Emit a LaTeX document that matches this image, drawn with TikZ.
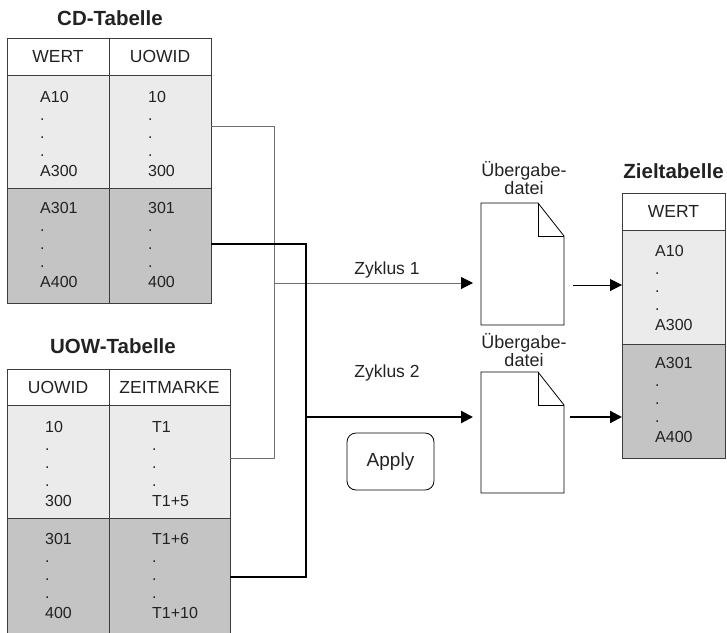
\documentclass[tikz,border=0pt]{standalone}
\usepackage{fontspec}
\setmainfont{Liberation Sans}
\usetikzlibrary{arrows.meta}

\definecolor{lightrow}{HTML}{EBEBEB}
\definecolor{darkrow}{HTML}{C4C4C4}
\definecolor{rulegray}{HTML}{3C3C3C}
\definecolor{wiregray}{HTML}{707070}
\definecolor{inkgray}{HTML}{222222}

% a column of values: first entry, three dots, last entry
\newcommand\valcol[5]{%
  \node[val] (#1a) at (#2,#3)    {#4};
  \node[val] (#1b) at (#2,#3+18) {.};
  \node[val] (#1c) at (#2,#3+36) {.};
  \node[val] (#1d) at (#2,#3+54) {.};
  \node[val] (#1e) at (#2,#3+74) {#5};
}

\tikzset{
  cell/.style={draw=rulegray, line width=0.9pt, inner sep=0pt, outer sep=0pt},
  headcell/.style={cell, fill=white, text=inkgray, font=\fontsize{17.5}{20}\selectfont},
  lightcell/.style={cell, fill=lightrow},
  darkcell/.style={cell, fill=darkrow},
  val/.style={anchor=base west, inner sep=0pt, text=inkgray, font=\fontsize{16}{18}\selectfont},
  tabtitle/.style={anchor=base, inner sep=0pt, text=inkgray, font=\bfseries\fontsize{20.5}{23}\selectfont},
  plainlabel/.style={anchor=base, inner sep=0pt, text=inkgray, font=\fontsize{17.5}{20}\selectfont},
  doclabel/.style={anchor=base, inner sep=0pt, text=inkgray, font=\fontsize{18}{20}\selectfont},
  docbox/.style={inner sep=0pt, outer sep=0pt, minimum width=83, minimum height=122},
  docline/.style={draw=black, line width=0.8pt, fill=white, line join=miter},
  thinwire/.style={draw=wiregray, line width=1pt},
  thickwire/.style={draw=black, line width=2.3pt},
  tip/.style={-{Triangle[length=12,width=12,color=black]}},
}

\begin{document}
\begin{tikzpicture}[x=1pt, y=-1pt]
\useasboundingbox (0,0) rectangle (727,632);

% ---------- CD-Tabelle ----------
\node[tabtitle] (cdtitle) at (110,25) {CD-Tabelle};
\node[headcell, minimum width=102, minimum height=37] (cdWh) at (58,56.5) {WERT};
\node[headcell, minimum width=102, minimum height=37] (cdUh) at (160,56.5) {UOWID};
\node[lightcell, minimum width=102, minimum height=113] (cdW1) at (58,131.5) {};
\node[lightcell, minimum width=102, minimum height=113] (cdU1) at (160,131.5) {};
\node[darkcell, minimum width=102, minimum height=115] (cdW2) at (58,245.5) {};
\node[darkcell, minimum width=102, minimum height=115] (cdU2) at (160,245.5) {};
\valcol{cdwa}{40}{102}{A10}{A300}
\valcol{cdua}{148}{102}{10}{300}
\valcol{cdwb}{40}{213}{A301}{A400}
\valcol{cdub}{148}{213}{301}{400}

% ---------- UOW-Tabelle ----------
\node[tabtitle] (uowtitle) at (113,353) {UOW-Tabelle};
\node[headcell, minimum width=102, minimum height=36] (uoIh) at (58,387) {UOWID};
\node[headcell, minimum width=121, minimum height=36] (uoZh) at (169.5,387) {ZEITMARKE};
\node[lightcell, minimum width=102, minimum height=113] (uoI1) at (58,461.5) {};
\node[lightcell, minimum width=121, minimum height=113] (uoZ1) at (169.5,461.5) {};
\node[darkcell, minimum width=102, minimum height=118] (uoI2) at (58,577) {};
\node[darkcell, minimum width=121, minimum height=118] (uoZ2) at (169.5,577) {};
\valcol{uoia}{45}{432}{10}{300}
\valcol{uoza}{152}{432}{T1}{T1+5}
\valcol{uoib}{45}{544}{301}{400}
\valcol{uozb}{152}{544}{T1+6}{T1+10}

% ---------- Zieltabelle ----------
\node[tabtitle] (zieltitle) at (673.5,178) {Zieltabelle};
\node[headcell, minimum width=103, minimum height=37] (zh) at (673.5,211.5) {WERT};
\node[lightcell, minimum width=103, minimum height=114] (z1) at (673.5,287) {};
\node[darkcell, minimum width=103, minimum height=114] (z2) at (673.5,401) {};
\valcol{zla}{655}{256}{A10}{A300}
\valcol{zlb}{655}{368}{A301}{A400}

% ---------- Uebergabedateien ----------
\node[docbox] (doc1) at (522.5,264) {};
\node[docbox, minimum height=121] (doc2) at (522.5,432.5) {};
\foreach \d in {doc1,doc2}{
  \draw[docline] (\d.north west) -- ([xshift=-26pt]\d.north east)
    -- ([yshift=-33pt]\d.north east) -- (\d.south east) -- (\d.south west) -- cycle;
  \draw[docline, fill=none] ([xshift=-26pt]\d.north east) |- ([yshift=-33pt]\d.north east);
}
\node[doclabel] (lab1a) at (524,176) {Übergabe-};
\node[doclabel] (lab1b) at (524,194) {datei};
\node[doclabel] (lab2a) at (524,348) {Übergabe-};
\node[doclabel] (lab2b) at (524,366.5) {datei};

% ---------- Apply ----------
\node[draw=black, line width=0.8pt, rounded corners=9pt, minimum width=87, minimum height=57,
      inner sep=0pt, text=inkgray, font=\fontsize{19}{22}\selectfont] (apply) at (390.5,461.5) {Apply};

% ---------- Zyklus 1: thin connectors ----------
\coordinate (t1) at (274,126);
\coordinate (t2) at (274,458);
\coordinate (t3) at (274,283);
\draw[thinwire] (cdU1.east |- t1) -- (t1) -- (t2) -- (uoZ1.east |- t2);
\draw[thinwire, tip, shorten >=8pt] (t3) -- (doc1.west |- t3);
\node[plainlabel] (zyk1) at (387,274) {Zyklus 1};

% ---------- Zyklus 2: thick connectors ----------
\coordinate (k1) at (306,244);
\coordinate (k2) at (306,577);
\coordinate (k3) at (306,417);
\draw[thickwire, line join=miter] (cdU2.east |- k1) -- (k1) -- (k2) -- (uoZ2.east |- k2);
\draw[thickwire, tip, shorten >=8pt] (k3) -- (doc2.west |- k3);
\node[plainlabel] (zyk2) at (387,377) {Zyklus 2};

% ---------- into the target table ----------
\coordinate (d1) at (573,285);
\coordinate (d2) at (570,417);
\draw[thinwire, draw=black, tip] (d1) -- (z1.west |- d1);
\draw[thickwire, tip] (d2) -- (z2.west |- d2);
\end{tikzpicture}
\end{document}
